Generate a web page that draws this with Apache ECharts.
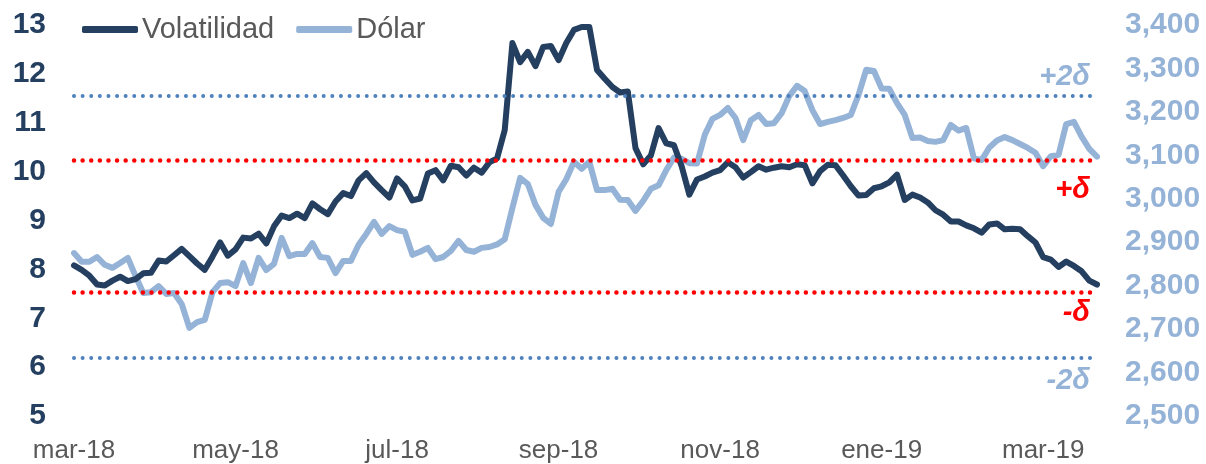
<!DOCTYPE html>
<html><head><meta charset="utf-8">
<script src="https://cdn.jsdelivr.net/npm/echarts@6/dist/echarts.min.js"></script>
<style>html,body{margin:0;padding:0;background:#fff}#c{width:1206px;height:464px}</style>
</head><body><div id="c"></div>
<script>
const tickLabels = ['mar-18','may-18','jul-18','sep-18','nov-18','ene-19','mar-19'];
const labelStep = 21;
const volatilidad = [8.08, 7.99, 7.87, 7.69, 7.67, 7.77, 7.85, 7.76, 7.80, 7.92,
 7.93, 8.18, 8.16, 8.29, 8.42, 8.27, 8.12, 7.99, 8.26, 8.55,
 8.28, 8.41, 8.65, 8.63, 8.73, 8.53, 8.88, 9.10, 9.05, 9.14,
 9.05, 9.35, 9.23, 9.13, 9.39, 9.56, 9.50, 9.82, 9.97, 9.78,
 9.62, 9.47, 9.86, 9.70, 9.41, 9.45, 9.96, 10.03, 9.82, 10.12,
 10.09, 9.92, 10.08, 9.98, 10.19, 10.27, 10.85, 12.63, 12.24, 12.45,
 12.16, 12.55, 12.57, 12.28, 12.63, 12.90, 12.96, 12.96, 12.08, 11.90,
 11.73, 11.62, 11.64, 10.48, 10.15, 10.33, 10.89, 10.58, 10.54, 10.11,
 9.53, 9.84, 9.90, 9.98, 10.03, 10.19, 10.09, 9.88, 9.99, 10.11,
 10.04, 10.08, 10.11, 10.09, 10.15, 10.13, 9.76, 10.01, 10.14, 10.13,
 9.92, 9.70, 9.51, 9.52, 9.66, 9.70, 9.78, 9.94, 9.42, 9.53,
 9.47, 9.37, 9.21, 9.12, 8.98, 8.98, 8.90, 8.84, 8.75, 8.92,
 8.94, 8.82, 8.83, 8.82, 8.68, 8.55, 8.25, 8.20, 8.05, 8.16,
 8.07, 7.96, 7.77, 7.69];
const dolar = [2875, 2855, 2855, 2866, 2848, 2841, 2852, 2864, 2822, 2783,
 2785, 2799, 2781, 2783, 2758, 2703, 2716, 2721, 2785, 2806,
 2808, 2799, 2852, 2806, 2864, 2836, 2850, 2910, 2868, 2873,
 2873, 2898, 2866, 2864, 2829, 2857, 2857, 2894, 2919, 2947,
 2919, 2937, 2928, 2924, 2871, 2878, 2887, 2861, 2866, 2880,
 2903, 2882, 2878, 2887, 2889, 2895, 2907, 2979, 3048, 3034,
 2986, 2956, 2942, 3016, 3045, 3085, 3069, 3085, 3020, 3020,
 3023, 2998, 2997, 2972, 2995, 3023, 3031, 3066, 3095, 3092,
 3082, 3081, 3147, 3184, 3193, 3209, 3186, 3135, 3181, 3193,
 3172, 3174, 3197, 3237, 3260, 3248, 3204, 3172, 3177, 3181,
 3186, 3193, 3239, 3297, 3294, 3254, 3253, 3220, 3193, 3140,
 3141, 3133, 3131, 3135, 3170, 3157, 3163, 3093, 3089, 3118,
 3134, 3142, 3135, 3126, 3117, 3106, 3075, 3098, 3101, 3172,
 3177, 3143, 3115, 3097];
const bandLabels = ['+2δ', '+δ', '-δ', '-2δ'];
const bandValues = [11.56, 10.23, 7.53, 6.19];

const categories = volatilidad.map((_, i) => String(i));
const DARK = '#243F60', LIGHT = '#95B3D7', RED = '#FF0000', BLUE = '#4F81BD';
const FONT = 'Liberation Sans';

const bandStyles = [
  {color: BLUE, width: 4, labelColor: LIGHT, pos: 'insideEndTop', dist: [7, 4]},
  {color: RED, width: 4.5, labelColor: RED, pos: 'insideEndBottom', dist: [7, 15]},
  {color: RED, width: 4.5, labelColor: RED, pos: 'insideEndBottom', dist: [7, 6]},
  {color: BLUE, width: 4, labelColor: LIGHT, pos: 'insideEndBottom', dist: [7, 9]}
];

const chart = echarts.init(document.getElementById('c'), null, {renderer: 'canvas'});
chart.setOption({
  animation: false,
  textStyle: {fontFamily: FONT},
  grid: {left: 74, right: 109, top: 25, bottom: 48},
  legend: {
    left: 77, top: 10, itemWidth: 56, itemHeight: 7, itemGap: 22,
    icon: 'roundRect',
    textStyle: {fontFamily: FONT, fontSize: 29, color: '#595959', padding: [0, 0, 0, -1]},
    data: ['Volatilidad', 'Dólar']
  },
  xAxis: {
    type: 'category', data: categories, boundaryGap: false,
    axisLine: {show: false}, axisTick: {show: false}, splitLine: {show: false},
    axisLabel: {
      interval: (i) => i % labelStep === 0,
      formatter: (v, i) => tickLabels[Math.round(i / labelStep)] || '',
      fontFamily: FONT, fontSize: 26, color: '#595959', margin: 22
    }
  },
  yAxis: [
    {type: 'value', min: 5, max: 13, interval: 1, position: 'left',
     axisLine: {show: false}, axisTick: {show: false}, splitLine: {show: false},
     axisLabel: {fontFamily: FONT, fontSize: 30, fontWeight: 'bold', color: DARK, margin: 28}},
    {type: 'value', min: 2500, max: 3400, interval: 100, position: 'right',
     axisLine: {show: false}, axisTick: {show: false}, splitLine: {show: false},
     axisLabel: {fontFamily: FONT, fontSize: 30, fontWeight: 'bold', color: LIGHT, margin: 28,
       formatter: (v) => String(v).replace(/\B(?=(\d{3})+(?!\d))/g, ',')}}
  ],
  series: [
    {name: 'Volatilidad', type: 'line', yAxisIndex: 0, data: volatilidad,
     showSymbol: false, symbol: 'none', color: DARK, z: 3,
     lineStyle: {width: 6, color: DARK, cap: 'round', join: 'round'},
     markLine: {
       silent: true, symbol: ['none', 'none'],
       data: bandValues.map((v, k) => ({
         yAxis: v,
         lineStyle: {color: bandStyles[k].color, width: bandStyles[k].width, type: [0.01, 8.6], cap: 'round'},
         label: {show: true, formatter: bandLabels[k], position: bandStyles[k].pos,
           distance: bandStyles[k].dist, color: bandStyles[k].labelColor,
           fontFamily: FONT, fontSize: 29, fontWeight: 'bold', fontStyle: 'italic'}
       }))
     }},
    {name: 'Dólar', type: 'line', yAxisIndex: 1, data: dolar,
     showSymbol: false, symbol: 'none', color: LIGHT, z: 2,
     lineStyle: {width: 6, color: LIGHT, cap: 'round', join: 'round'}}
  ]
});
</script></body></html>
